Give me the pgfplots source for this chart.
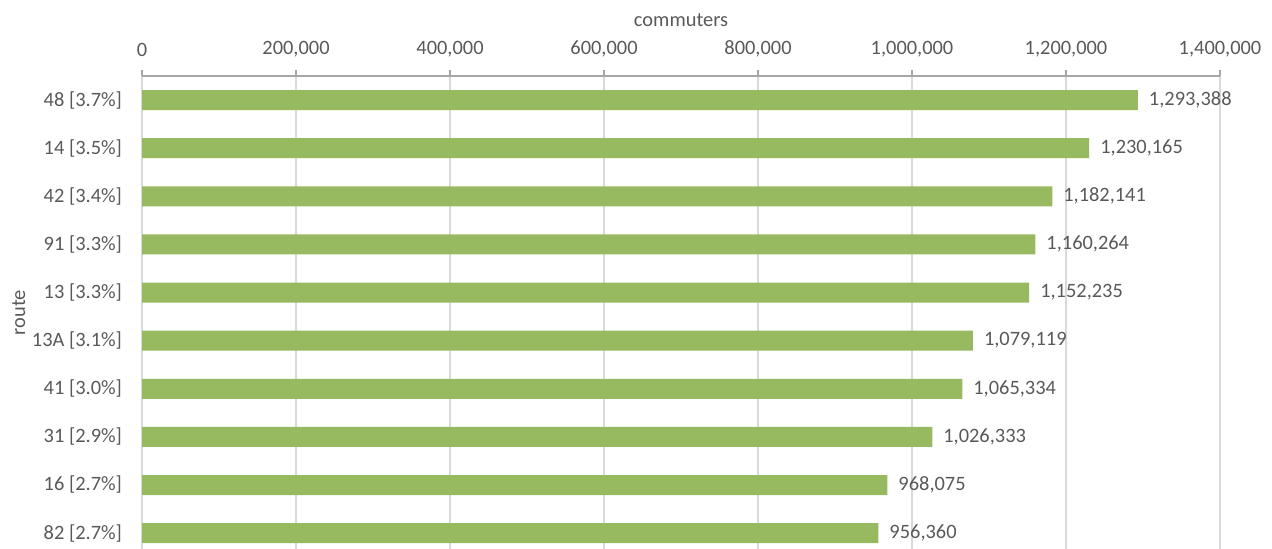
\documentclass[border=0pt]{standalone}
\usepackage{pgfplots}
\pgfplotsset{compat=1.18}
\usepackage{fontspec}
\setmainfont{Carlito}
\definecolor{barc}{HTML}{97B960}
\definecolor{txt}{HTML}{595959}
\definecolor{gridc}{HTML}{D9D9D9}
\definecolor{axl}{HTML}{A6A6A6}
\begin{document}
\begin{tikzpicture}
\useasboundingbox (0,0) rectangle (636pt,274.5pt);
\begin{axis}[
  at={(71pt,0pt)}, anchor=south west,
  scale only axis, width=539pt, height=236.5pt,
  xbar, bar width=10pt,
  xmin=0, xmax=1400000, ymin=-0.5, ymax=9.33, y dir=reverse,
  axis x line*=top, axis y line*=left,
  y axis line style={draw=none},
  x axis line style={axl, line width=0.6pt},
  xtick={0,200000,400000,600000,800000,1000000,1200000,1400000},
  scaled x ticks=false,
  tick align=outside, major tick length=3pt,
  x tick style={axl, line width=0.6pt},
  y tick style={draw=none},
  xmajorgrids, grid style={gridc, line width=0.6pt},
  xticklabel style={text=txt, font=\fontsize{10.2}{12}\selectfont, yshift=3pt},
  /pgf/number format/.cd, 1000 sep={,}, fixed, assume math mode=true,
  /pgfplots/.cd,
  ytick={0,...,9},
  yticklabels={48 [3.7\%],14 [3.5\%],42 [3.4\%],91 [3.3\%],13 [3.3\%],13A [3.1\%],41 [3.0\%],31 [2.9\%],16 [2.7\%],82 [2.7\%]},
  yticklabel style={text=txt, font=\fontsize{10.2}{12}\selectfont, xshift=-3.5pt},
  xlabel={commuters}, xlabel style={text=txt, font=\fontsize{10.2}{12}\selectfont, yshift=0pt},
  ylabel={route}, ylabel style={text=txt, font=\fontsize{10.2}{12}\selectfont, yshift=-3.5pt},
  nodes near coords={\pgfmathprintnumber[fixed, precision=0, 1000 sep={,}, assume math mode=true]{\pgfplotspointmeta}},
  point meta=x,
  nodes near coords style={text=txt, font=\fontsize{10.2}{12}\selectfont, anchor=west, xshift=2pt},
]
\addplot[fill=barc, draw=none] coordinates {
(1293388,0) (1230165,1) (1182141,2) (1160264,3) (1152235,4)
(1079119,5) (1065334,6) (1026333,7) (968075,8) (956360,9)};
\end{axis}
\end{tikzpicture}
\end{document}
